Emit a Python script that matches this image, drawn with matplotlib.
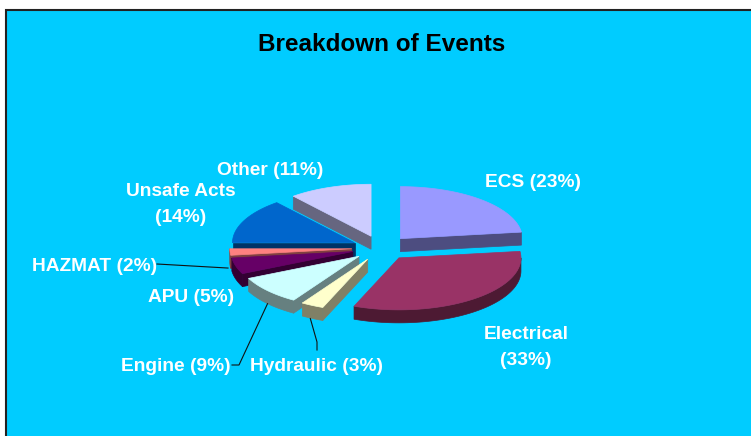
"""Breakdown of events as an exploded 3-D pie (Excel look) drawn with matplotlib."""

import matplotlib
matplotlib.use("Agg")
import matplotlib.pyplot as plt
from matplotlib.patches import Polygon, Rectangle
from matplotlib.colors import to_rgb
import numpy as np

plt.rcParams["font.family"] = ["Liberation Sans", "DejaVu Sans"]

# data, clockwise from 12 o'clock
labels = ["ECS", "Electrical", "Hydraulic", "Engine", "APU", "HAZMAT", "Unsafe Acts", "Other"]
shares = [23, 33, 3, 9, 5, 2, 14, 11]
top_colors = ["#9999FF", "#993366", "#FFFFCC", "#CCFFFF", "#660066", "#FF8080", "#0066CC", "#CCCCFF"]
label_texts = ["ECS (23%)", "Electrical\n(33%)", "Hydraulic (3%)", "Engine (9%)",
               "APU (5%)", "HAZMAT (2%)", "Unsafe Acts\n(14%)", "Other (11%)"]

# layout (pixels, y down)
W, H = 751, 436
CX, CY = 381, 248
RX, RY = 122, 52
DEPTH = 13
EXPLODE = 0.24
label_xy = {
    "ECS": (533, 187), "Electrical": (526, 365), "Hydraulic": (250, 371),
    "Engine": (176, 371), "APU": (191, 302), "HAZMAT": (95, 271),
    "Unsafe Acts": (181, 222), "Other": (270, 175),
}


def rim(ax_, ay_, t, dz=0.0):
    t = np.radians(t)
    return np.column_stack([ax_ + RX * np.cos(t), ay_ - RY * np.sin(t) + dz])


def shade(color, f=0.5):
    return tuple(c * f for c in to_rgb(color))


fig = plt.figure(figsize=(W / 100, H / 100), dpi=100, facecolor="white")
ax = fig.add_axes([0, 0, 1, 1])
ax.set_xlim(0, W)
ax.set_ylim(H, 0)
ax.axis("off")
ax.add_patch(Rectangle((6, 10), W + 10, H + 10, facecolor="#00CCFF",
                       edgecolor="#222222", linewidth=1.5, zorder=0))

ax.text(382, 51, "Breakdown of Events", ha="center", va="baseline",
        fontsize=17.5, fontweight="bold", color="black")

# wedge geometry
wedges = []
cum = 0
for name, share, col in zip(labels, shares, top_colors):
    t2 = 90 - cum * 3.6
    t1 = t2 - share * 3.6
    t1m = t1 % 360
    t2m = t1m + share * 3.6
    mid = (t1m + t2m) / 2
    apx = CX + EXPLODE * RX * np.cos(np.radians(mid))
    apy = CY - EXPLODE * RY * np.sin(np.radians(mid))
    wedges.append(dict(name=name, t1=t1m, t2=t2m, mid=mid, ax=apx, ay=apy, col=col))
    cum += share

# back to front
order = sorted(wedges, key=lambda w: -np.sin(np.radians(w["mid"])))
z = 2
for w in order:
    side = shade(w["col"])
    apex = np.array([[w["ax"], w["ay"]]])
    faces = []
    # outer wall, front half only
    for lo, hi in [(180, 360), (540, 720)]:
        a, b = max(w["t1"], lo), min(w["t2"], hi)
        if b > a:
            ts = np.linspace(a, b, 80)
            faces.append(np.vstack([rim(w["ax"], w["ay"], ts),
                                    rim(w["ax"], w["ay"], ts[::-1], DEPTH)]))
    # radial faces turned toward the viewer
    for t, vis in [(w["t1"], np.cos(np.radians(w["t1"])) > 1e-6),
                   (w["t2"], np.cos(np.radians(w["t2"])) < -1e-6)]:
        if vis:
            p = rim(w["ax"], w["ay"], [t])
            faces.append(np.vstack([apex, p, p + [0, DEPTH], apex + [0, DEPTH]]))
    for f in faces:
        ax.add_patch(Polygon(f, closed=True, facecolor=side, edgecolor=side,
                             linewidth=0.5, zorder=z))
    ts = np.linspace(w["t1"], w["t2"], 120)
    top = np.vstack([apex, rim(w["ax"], w["ay"], ts)])
    ax.add_patch(Polygon(top, closed=True, facecolor=w["col"], edgecolor=w["col"],
                         linewidth=0.5, zorder=z + 1))
    z += 2

# labels
for name, txt in zip(labels, label_texts):
    x, y = label_xy[name]
    ha = "left" if name == "Hydraulic" else "center"
    ax.text(x, y, txt, ha=ha, va="baseline", fontsize=13.8, fontweight="bold",
            color="white", linespacing=1.72, zorder=50)

# leader lines to the slices that are too small for a nearby label
wd = {w["name"]: w for w in wedges}


def wall_point(name, frac=0.85):
    w = wd[name]
    return rim(w["ax"], w["ay"], [w["mid"]], DEPTH * frac)[0]


hx, hy = wall_point("HAZMAT", 1.0)
ax.plot([157, hx - 2], [264, hy + 3], color="#111111", lw=0.8, zorder=40)
ex, ey = wall_point("Engine")
ax.plot([232, 239, ex], [365, 365, ey + 2], color="#111111", lw=0.8, zorder=40)
yx, yy = wall_point("Hydraulic")
ax.plot([yx - 2, 317, 317], [yy + 2, 342, 350], color="#111111", lw=0.8, zorder=40)

fig.savefig("out.png", dpi=100, facecolor=fig.get_facecolor())
